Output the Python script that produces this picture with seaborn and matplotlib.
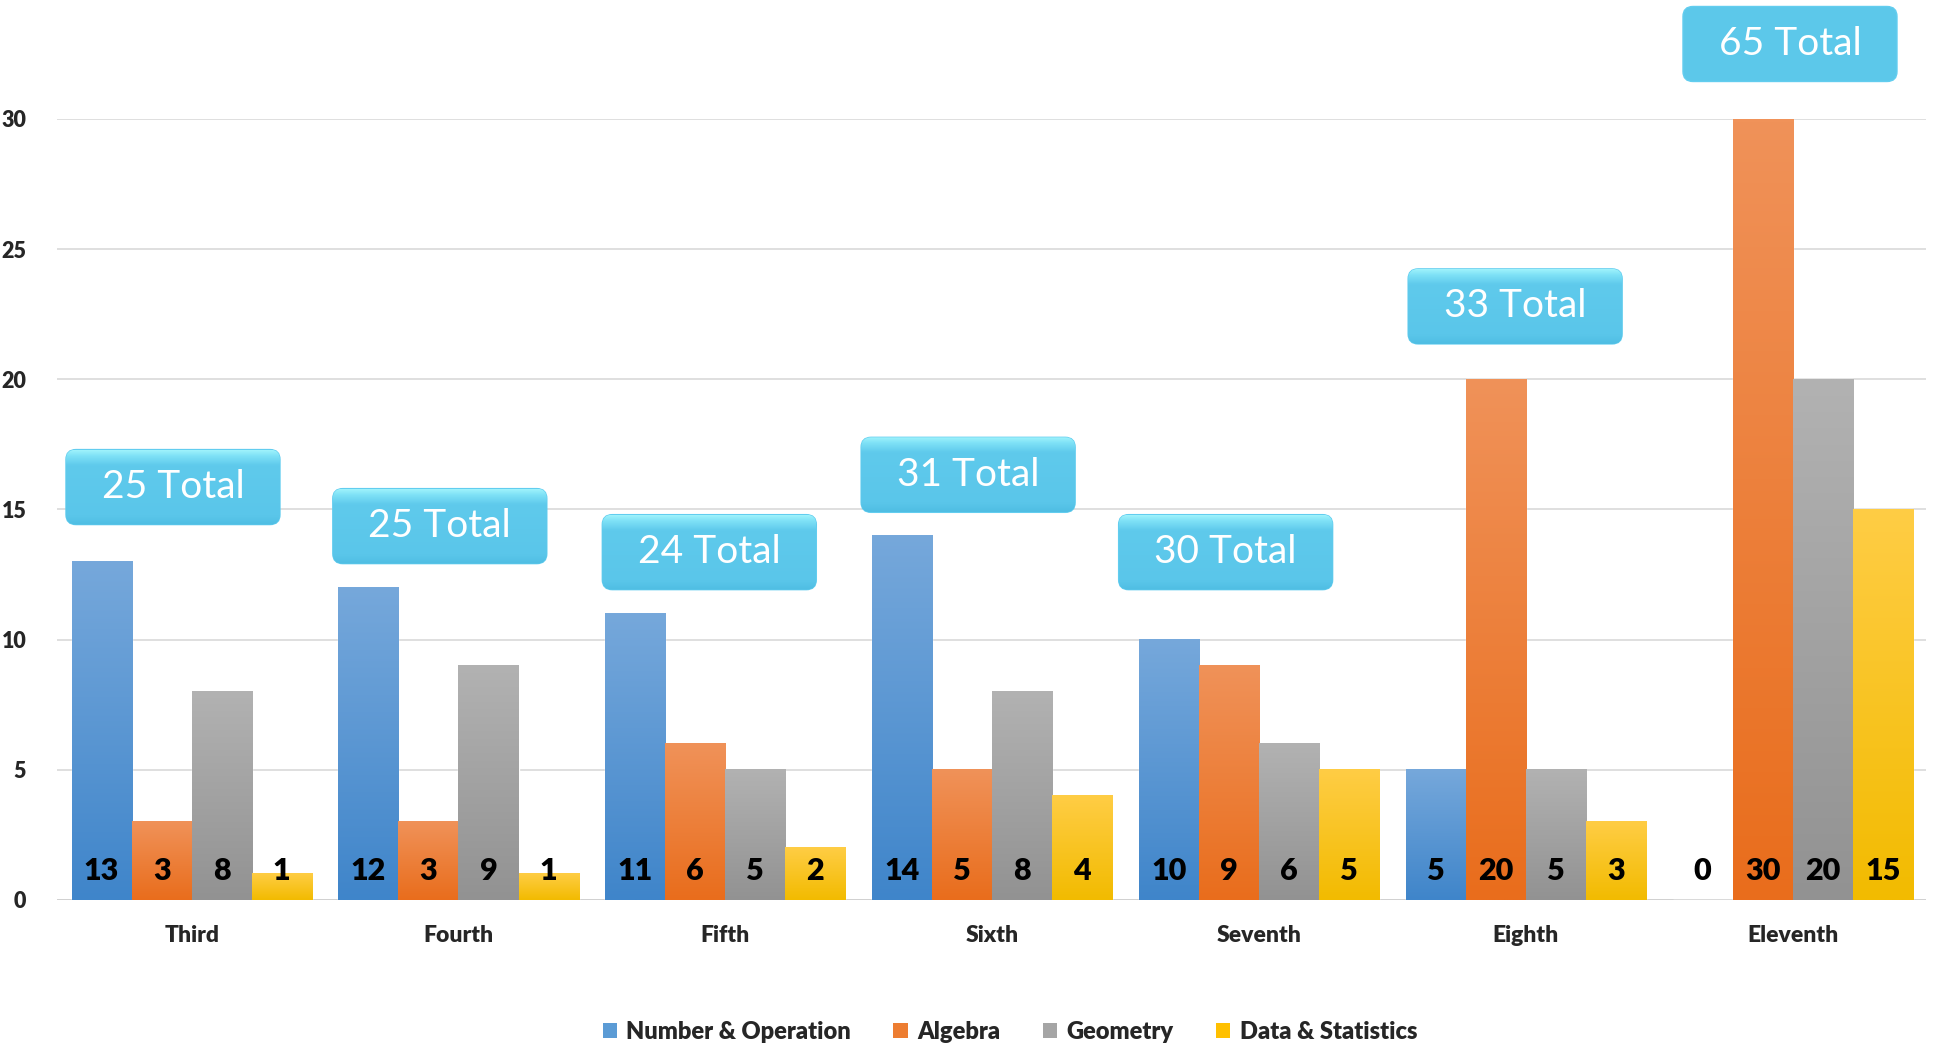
import matplotlib
matplotlib.use("Agg")
import matplotlib.pyplot as plt
from matplotlib.colors import LinearSegmentedColormap
from matplotlib.patches import FancyBboxPatch, Patch
from matplotlib.transforms import ScaledTranslation
import numpy as np
import pandas as pd
import seaborn as sns

grades = ["Third", "Fourth", "Fifth", "Sixth", "Seventh", "Eighth", "Eleventh"]
strands = ["Number & Operation", "Algebra", "Geometry", "Data & Statistics"]
number_op = [13, 12, 11, 14, 10, 5, 0]
algebra = [3, 3, 6, 5, 9, 20, 30]
geometry = [8, 9, 5, 8, 6, 5, 20]
data_stats = [1, 1, 2, 4, 5, 3, 15]

# where the "Total" callouts sit: centre height (data units) and x shift (category units)
box_y = [15.86, 14.36, 13.36, 16.33, 13.36, 22.80, 32.88]
box_dx = [-0.07, -0.07, -0.06, -0.09, -0.125, -0.04, -0.01]

# (top, bottom) gradient colours per strand
grad = {
    "Number & Operation": ("#76a8db", "#3f85ca"),
    "Algebra": ("#f09259", "#e96d1c"),
    "Geometry": ("#b2b2b2", "#929292"),
    "Data & Statistics": ("#ffcd45", "#f2bb00"),
}
mid = {"Number & Operation": "#5b9bd5", "Algebra": "#ed7d31",
       "Geometry": "#a5a5a5", "Data & Statistics": "#ffc000"}

series = [number_op, algebra, geometry, data_stats]
rows = []
for s, vals in zip(strands, series):
    for g, v in zip(grades, vals):
        rows.append({"grade": g, "strand": s, "count": v})
df = pd.DataFrame(rows)
totals = [sum(t) for t in zip(*series)]

sns.set_theme(style="white")
plt.rcParams["font.family"] = ["Lato", "DejaVu Sans"]

fig = plt.figure(figsize=(19.42, 10.5), dpi=100)
ax = fig.add_axes([0.0293, 0.1429, 0.9625, 0.7438])

sns.barplot(data=df, x="grade", y="count", hue="strand", order=grades,
            hue_order=strands, palette=mid, saturation=1, width=0.9,
            legend=False, ax=ax, zorder=2)

# vertical gradient on each bar
for s, cont in zip(strands, ax.containers):
    cmap = LinearSegmentedColormap.from_list(s, [grad[s][1], grad[s][0]])
    for bar in cont:
        h = bar.get_height()
        if h <= 0:
            continue
        x0 = bar.get_x()
        w = bar.get_width()
        ax.imshow(np.linspace(0, 1, 256).reshape(-1, 1), cmap=cmap,
                  extent=[x0, x0 + w, 0, h], origin="lower", aspect="auto",
                  zorder=3)

# value labels near the base
for vals, cont in zip(series, ax.containers):
    for bar, v in zip(cont, vals):
        ax.annotate(str(v), (bar.get_x() + bar.get_width() / 2, 0),
                    xytext=(0, 21), textcoords="offset points",
                    ha="center", va="center", fontsize=22,
                    fontweight="heavy", color="black", zorder=5)

ax.set_xlim(-0.505, 6.5)
ax.set_ylim(0, 30)
ax.set_yticks([0, 5, 10, 15, 20, 25, 30])
ax.yaxis.grid(True, color="#d9d9d9", lw=1.2, zorder=0)
ax.set_axisbelow(True)
ax.axhline(0, color="#d0d0d0", lw=2, zorder=1)
for sp in ax.spines.values():
    sp.set_visible(False)
ax.tick_params(axis="y", length=0, pad=22, labelsize=15.5)
ax.tick_params(axis="x", length=0, pad=18, labelsize=16.5)
for lab in ax.get_xticklabels() + ax.get_yticklabels():
    lab.set_fontweight("heavy")
ax.set_xlabel("")
ax.set_ylabel("")

# "Total" callouts
box_cmap = LinearSegmentedColormap.from_list(
    "box", [(0, "#4fbde3"), (0.12, "#5ac6ea"), (0.8, "#5fcaec"),
            (0.93, "#80e2f7"), (1, "#9ff2fc")])
for i, (t, yb, dx) in enumerate(zip(totals, box_y, box_dx)):
    tr = fig.dpi_scale_trans + ScaledTranslation(i + dx, yb, ax.transData)
    box = FancyBboxPatch((-1.07, -0.375), 2.14, 0.75,
                         boxstyle="round,pad=0,rounding_size=0.1",
                         transform=tr, facecolor="#5cc8ea",
                         edgecolor="#62cdef", lw=1, clip_on=False, zorder=6)
    ax.add_patch(box)
    im = ax.imshow(np.linspace(0, 1, 128).reshape(-1, 1), cmap=box_cmap,
                   extent=[-1.07, 1.07, -0.375, 0.375], origin="lower",
                   aspect="auto", transform=tr, zorder=6.5)
    im.set_clip_path(box)
    ax.text(0, 0, f"{t} Total", transform=tr, ha="center", va="center",
            fontsize=28, color="white", zorder=7, clip_on=False)

ax.set_xlim(-0.505, 6.5)
ax.set_ylim(0, 30)

handles = [Patch(facecolor=mid[s], edgecolor="none") for s in strands]
leg = fig.legend(handles, strands, loc="center", bbox_to_anchor=(0.52, 0.0175),
                 ncol=4, frameon=False, handlelength=0.6, handleheight=0.6,
                 handletextpad=0.4, columnspacing=1.8,
                 prop={"size": 17, "weight": "heavy"})

fig.savefig("out.png", dpi=100)
